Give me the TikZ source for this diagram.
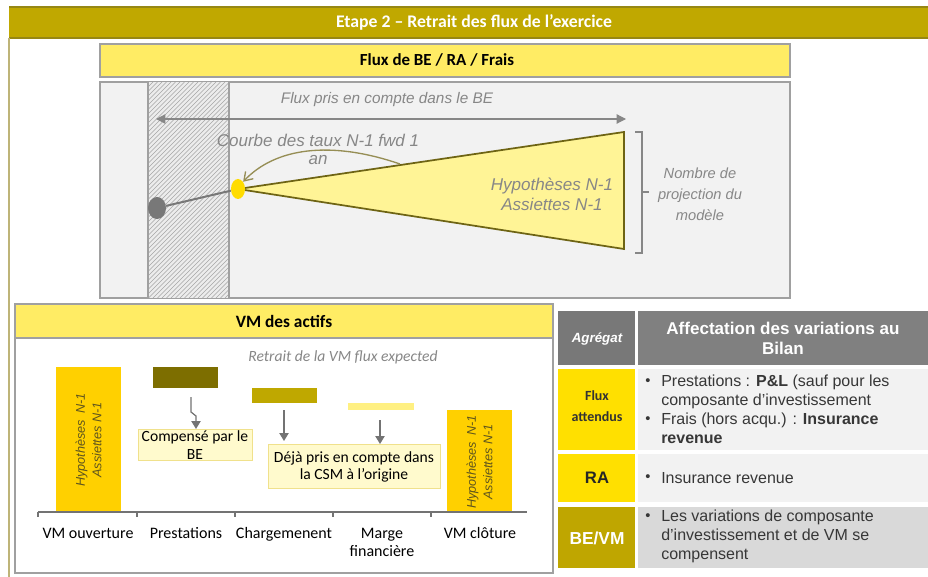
\documentclass[tikz,border=0pt]{standalone}
\usepackage{fontspec}
\setmainfont{Carlito}
\newfontfamily\arial{Liberation Sans}
\usetikzlibrary{arrows.meta,shapes.geometric}
\definecolor{banner}{RGB}{192,168,0}
\definecolor{bannerline}{RGB}{150,135,20}
\definecolor{framecol}{RGB}{190,180,120}
\definecolor{hdryellow}{RGB}{255,236,100}
\definecolor{panelgray}{RGB}{242,242,242}
\definecolor{hatchbg}{RGB}{236,236,236}
\definecolor{panelborder}{RGB}{160,160,160}
\definecolor{hatchcol}{RGB}{165,165,165}
\definecolor{trifill}{RGB}{255,244,150}
\definecolor{triline}{RGB}{110,100,20}
\definecolor{dotyellow}{RGB}{255,220,0}
\definecolor{dotgray}{RGB}{120,120,120}
\definecolor{txtgray}{RGB}{135,135,135}
\definecolor{curvecol}{RGB}{150,142,85}
\definecolor{gold}{RGB}{255,208,0}
\definecolor{darkolive}{RGB}{125,110,0}
\definecolor{olive}{RGB}{191,168,0}
\definecolor{lightyel}{RGB}{255,240,130}
\definecolor{calloutfill}{RGB}{255,250,205}
\definecolor{calloutline}{RGB}{240,225,140}
\definecolor{axiscol}{RGB}{115,115,115}
\definecolor{hdrdark}{RGB}{120,120,120}
\definecolor{hdrgray}{RGB}{128,128,128}
\definecolor{tyellow}{RGB}{255,224,0}
\definecolor{tolive}{RGB}{191,166,0}
\definecolor{rowgray}{RGB}{242,242,242}
\definecolor{rowgrayb}{RGB}{217,217,217}
\definecolor{tabtext}{RGB}{55,55,55}
\definecolor{bartext}{RGB}{95,85,30}
\begin{document}
\begin{tikzpicture}[x=0.75pt,y=-0.75pt,
  itgray/.style={font=\arial\itshape\fontsize{11}{15.75}\selectfont, text=txtgray, align=center, inner sep=0pt},
  barlabel/.style={font=\fontsize{12}{13.5}\selectfont, text=black, align=center, inner sep=0pt, anchor=base},
  callout/.style={draw=calloutline, fill=calloutfill, line width=0.6pt},
  callouttext/.style={font=\fontsize{11.7}{13}\selectfont, align=center, inner sep=0pt},
  downarr/.style={draw=axiscol, line width=0.9pt, -{Triangle[length=6pt,width=7pt]}},
  rottext/.style={rotate=90, font=\arial\itshape\fontsize{9.5}{12.5}\selectfont, text=bartext, align=center, inner sep=0pt},
  tabfont/.style={font=\arial\fontsize{12}{14.25}\selectfont, text=tabtext, align=left, inner sep=0pt, anchor=west},
  bulletn/.style={font=\arial\fontsize{11}{14.25}\selectfont, text=tabtext, inner sep=0pt}
]
\useasboundingbox (0,0) rectangle (928,577);
\fill[white] (0,0) rectangle (928,577);

% ---------- banner ----------
\fill[banner] (9,7) rectangle (928,38);
\draw[bannerline, line width=0.8pt] (9,7) -- (928,7) (9,38) -- (928,38);
\node[font=\bfseries\fontsize{13.3}{15}\selectfont, text=white, inner sep=0pt] (title) at (474,22) {Etape 2 – Retrait des flux de l’exercice};
\draw[framecol, line width=0.8pt] (9,38) -- (9,577);

% ---------- flux panel ----------
\draw[panelborder, line width=0.8pt, fill=hdryellow] (100,44) rectangle (790,77);
\node[font=\bfseries\fontsize{12.7}{14}\selectfont, inner sep=0pt] (fluxhdr) at (437,60) {Flux de BE / RA / Frais};
\draw[panelborder, line width=0.8pt, fill=panelgray] (100,82) rectangle (790,298);
\fill[hatchbg] (148,82) rectangle (229,298);
\begin{scope}
  \clip (148,82) rectangle (229,298);
  \foreach \i in {-220,-215.5,...,85} \draw[hatchcol, line width=0.45pt] (148+\i,298) -- (364+\i,82);
\end{scope}
\draw[panelborder, line width=0.8pt] (148,82) -- (148,298) (229,82) -- (229,298);

\coordinate (aL) at (156,119);
\coordinate (aR) at (626,119);
\draw[txtgray, line width=0.9pt, {Triangle[length=7pt,width=7pt]}-{Triangle[length=7pt,width=7pt]}] (aL) -- (aR);
\node[itgray, font=\arial\itshape\fontsize{11.5}{15}\selectfont] (fluxbe) at (387,100) {Flux pris en compte dans le BE};

\draw[triline, line width=1.3pt, fill=trifill] (238,189) -- (624,132) -- (624,249) -- cycle;
\node[itgray, font=\arial\itshape\fontsize{12.8}{15}\selectfont] (hyp) at (552,194) {Hypothèses N-1\\Assiettes N-1};

\node[ellipse, fill=dotgray, minimum width=13.5pt, minimum height=16.5pt, inner sep=0pt] (gd) at (157,208) {};
\node[ellipse, fill=dotyellow, minimum width=10.5pt, minimum height=15pt, inner sep=0pt] (yd) at (238,189) {};
\draw[dotgray, line width=1.5pt] (gd) -- (yd);

\coordinate (cs) at (400,164);
\draw[curvecol, line width=1pt, -{Straight Barb[length=6pt,width=8pt]}] (cs) .. controls (330,140) and (275,148) .. (yd.north east);
\node[itgray, font=\arial\itshape\fontsize{12.75}{13.5}\selectfont] (courbe) at (318,149) {Courbe des taux N-1 fwd 1\\an};

\coordinate (bt) at (635,132);
\coordinate (bb) at (635,253);
\draw[txtgray, line width=1.3pt] (bt) -- (642,132) -- (642,253) -- (bb);
\coordinate (bm) at (642,192);
\coordinate (bm2) at (649,192);
\draw[txtgray, line width=1.3pt] (bm) -- (bm2);
\node[itgray] (nombre) at (700,194) {Nombre de\\projection du\\modèle};

% ---------- VM panel ----------
\draw[panelborder, line width=0.8pt, fill=white] (15,338) rectangle (553,573);
\draw[panelborder, line width=0.8pt, fill=hdryellow] (15,304) rectangle (553,338);
\node[font=\bfseries\fontsize{13}{14}\selectfont, inner sep=0pt] (vmhdr) at (284,321) {VM des actifs};
\node[font=\itshape\fontsize{11.7}{13}\selectfont, text=txtgray, inner sep=0pt] (retrait) at (343,357) {Retrait de la VM flux expected};

\fill[gold] (56,367) rectangle (121,512);
\fill[darkolive] (153,367) rectangle (218,388);
\fill[olive] (252,388) rectangle (317,403);
\fill[lightyel] (348,403) rectangle (414,410);
\fill[gold] (447,410) rectangle (512,512);

\node[rottext] (rot1) at (88.5,440) {Hypothèses\enspace N-1\\Assiettes N-1};
\node[rottext] (rot2) at (479.5,462) {Hypothèses\enspace N-1\\Assiettes N-1};

\draw[axiscol, line width=1.3pt] (38,512) -- (527,512);
\foreach \t in {38,137,235,333,431} \draw[axiscol, line width=1pt] (\t,512) -- (\t,517);

\node[barlabel] (l1) at (88,538) {VM ouverture};
\node[barlabel] (l2) at (186,538) {Prestations};
\node[barlabel] (l3) at (284,538) {Chargemenent};
\node[barlabel] (l4) at (382,556) {Marge\\financière};
\node[barlabel] (l5) at (480,538) {VM clôture};

\draw[callout] (138,429) rectangle (252,460);
\node[callouttext] (cb1) at (195,445) {Compensé par le\\BE};
\draw[callout] (268,444) rectangle (440,488);
\node[callouttext] (cb2) at (354,467) {Déjà pris en compte dans\\la CSM à l’origine};

\coordinate (s1) at (191,397);
\coordinate (e1) at (196,429);
\draw[downarr] (s1) -- (191,412) -- (196,416) -- (e1);
\coordinate (s2) at (284,410);
\coordinate (e2) at (284,441);
\draw[downarr] (s2) -- (e2);
\coordinate (s3) at (380,420);
\coordinate (e3) at (380,444);
\draw[downarr] (s3) -- (e3);

% ---------- table ----------
\fill[hdrdark] (558,311) rectangle (635,365);
\fill[hdrgray] (638,311) rectangle (928,365);
\node[font=\arial\bfseries\itshape\fontsize{10}{12}\selectfont, text=white, inner sep=0pt] (agr) at (597,339) {Agrégat};
\node[font=\arial\bfseries\fontsize{12.8}{15}\selectfont, text=white, align=center, inner sep=0pt] (aff) at (783,338) {Affectation des variations au\\Bilan};

\fill[tyellow] (558,369) rectangle (635,450);
\fill[rowgray] (638,369) rectangle (928,450);
\node[font=\bfseries\fontsize{10.5}{16}\selectfont, text=black!80, align=center, inner sep=0pt] (fa) at (597,406) {Flux\\attendus};
\node[bulletn] (b1) at (648,382) {•};
\node[tabfont, anchor=north west] (t1) at (661,375) {Prestations : \textbf{P\&L} (sauf pour les\\composante d’investissement};
\node[bulletn] (b2) at (648,420) {•};
\node[tabfont, anchor=north west] (t2) at (661,413) {Frais (hors acqu.) : \textbf{Insurance}\\\textbf{revenue}};

\fill[tyellow] (558,454) rectangle (635,502);
\fill[rowgray] (638,454) rectangle (928,502);
\node[font=\arial\bfseries\fontsize{12.5}{14}\selectfont, text=black!85, inner sep=0pt] (ra) at (597,478) {RA};
\node[bulletn] (b3) at (648,478) {•};
\node[tabfont] (t3) at (661,478) {Insurance revenue};

\fill[tolive] (558,507) rectangle (635,568);
\fill[rowgrayb] (638,507) rectangle (928,568);
\node[font=\arial\bfseries\fontsize{13}{14}\selectfont, text=white, inner sep=0pt] (bevm) at (597,538) {BE/VM};
\node[bulletn] (b4) at (648,517) {•};
\node[tabfont, anchor=north west] (t4) at (661,510) {Les variations de composante\\d’investissement et de VM se\\compensent};
\end{tikzpicture}
\end{document}
